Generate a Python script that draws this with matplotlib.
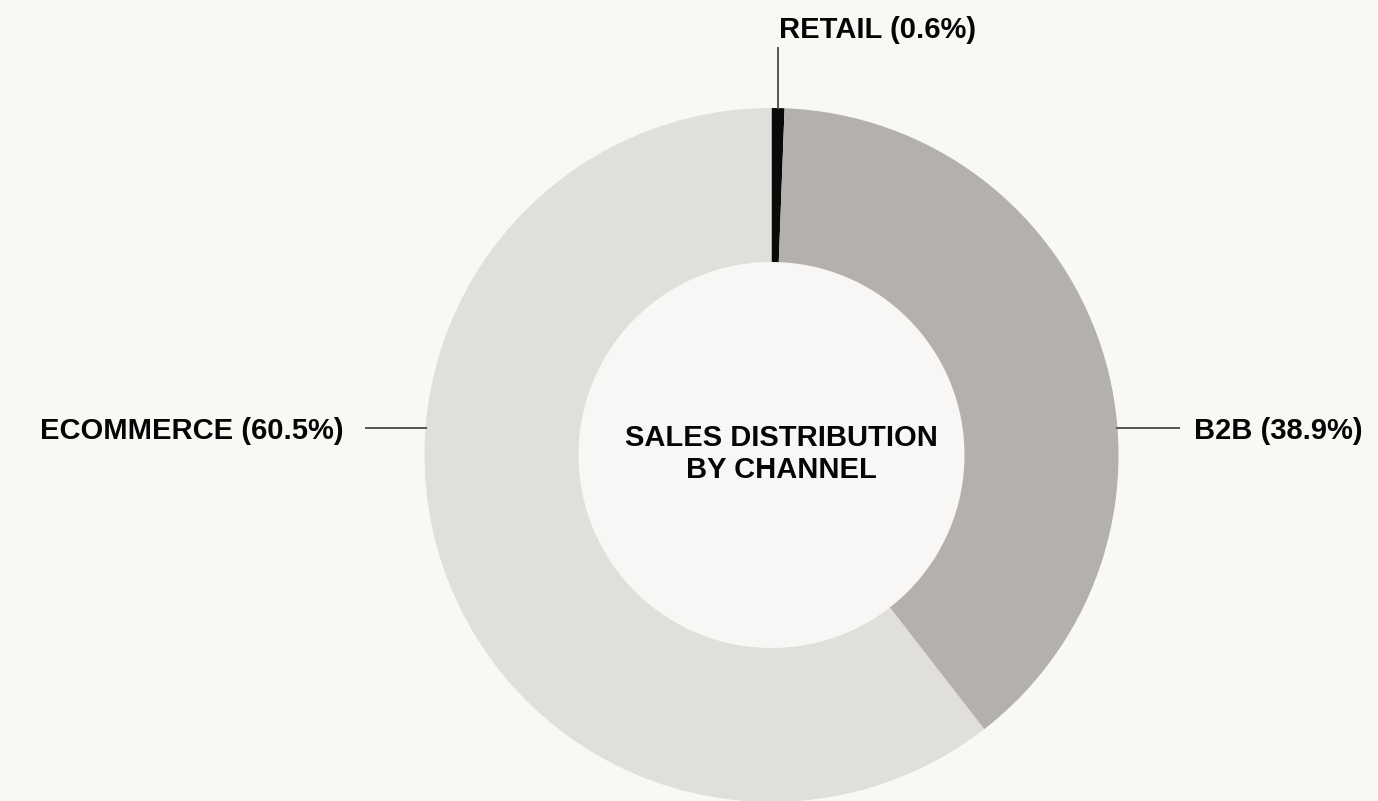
import numpy as np
import matplotlib
matplotlib.use("Agg")
import matplotlib.pyplot as plt
from matplotlib.patches import Circle

categories = ["RETAIL", "B2B", "ECOMMERCE"]
shares = [0.6, 38.9, 60.5]
colors = ["#0a0a0a", "#b4b1ac", "#e0dfdb"]
center_title = "SALES DISTRIBUTION\nBY CHANNEL"

W, H = 1378, 801
BG = "#f8f8f4"
plt.rcParams['font.family'] = ['Liberation Sans', 'DejaVu Sans']

fig = plt.figure(figsize=(W / 100, H / 100), dpi=100, facecolor=BG)
ax = fig.add_axes([0, 0, 1, 1])
ax.set_facecolor(BG)

cx, cy = 771.5, H - 455
R = 347
r_in = 193

wedges, _ = ax.pie(shares, colors=colors, startangle=90, counterclock=False,
                   center=(cx, cy), radius=R, frame=True,
                   wedgeprops=dict(linewidth=0))
ax.set_xlim(0, W)
ax.set_ylim(0, H)
ax.set_aspect('equal')
ax.axis('off')
ax.add_patch(Circle((cx, cy), r_in, facecolor="#f8f7f5", edgecolor='none', zorder=3))

fs = 21
txt_col = '#050505'
ax.text(cx + 10, cy + 1, center_title, ha='center', va='center', fontsize=fs,
        fontweight='bold', color=txt_col, linespacing=1.2, zorder=4)

labels = [f"{c} ({s}%)" for c, s in zip(categories, shares)]
line_col = '#555555'

# Retail: vertical leader from mid-angle of its wedge upward
w = wedges[0]
mid = np.deg2rad((w.theta1 + w.theta2) / 2)
x0 = cx + R * np.cos(mid)
y0 = cy + R * np.sin(mid)
ax.plot([x0, x0], [y0, y0 + 60], color=line_col, lw=1.4, zorder=5)
ax.text(x0 + 1, y0 + 70, labels[0], ha='left', va='baseline', fontsize=fs,
        fontweight='bold', color=txt_col)

# B2B and Ecommerce: horizontal leaders
ly = H - 428
dy = ly - cy
dx = np.sqrt(R ** 2 - dy ** 2)
ax.plot([cx + dx, cx + dx + 62], [ly, ly], color=line_col, lw=1.4, zorder=5)
ax.text(cx + dx + 77, ly, labels[1], ha='left', va='center_baseline', fontsize=fs,
        fontweight='bold', color=txt_col)
ax.plot([cx - dx, cx - dx - 60], [ly, ly], color=line_col, lw=1.4, zorder=5)
ax.text(cx - dx - 82, ly, labels[2], ha='right', va='center_baseline', fontsize=fs,
        fontweight='bold', color=txt_col)

fig.savefig("out.png", dpi=100, facecolor=BG)
